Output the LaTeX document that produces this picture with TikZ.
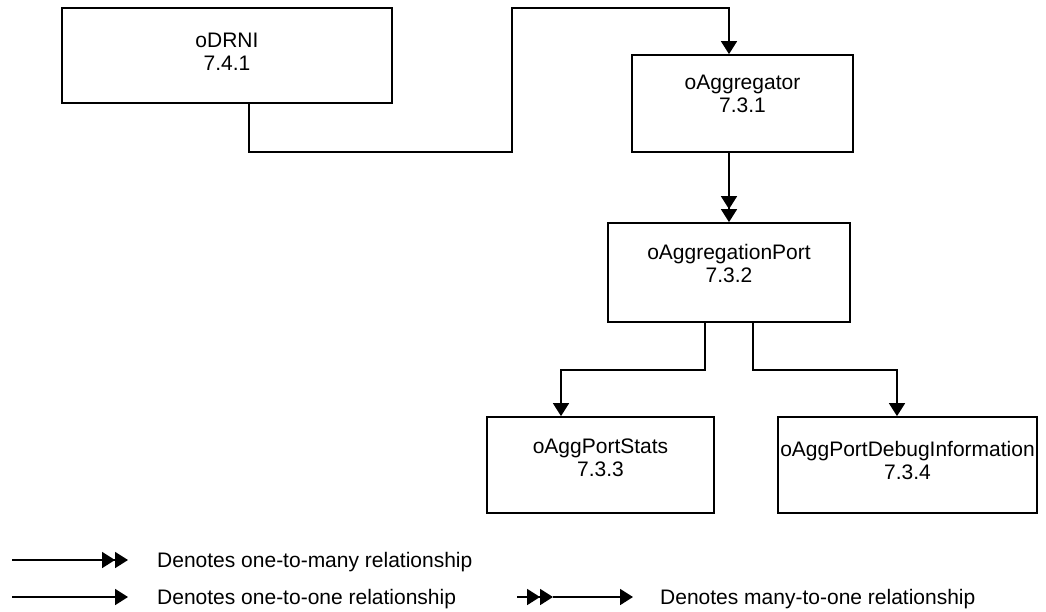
\documentclass[tikz,border=0pt]{standalone}
\usepackage{fontspec}
\setmainfont{Liberation Sans}
\usetikzlibrary{arrows.meta}
\begin{document}
\begin{tikzpicture}[x=1pt,y=-1pt,
  every node/.style={font=\fontsize{21}{23}\selectfont},
  objbox/.style={draw, line width=1.8pt, rectangle, inner sep=0pt},
  conn/.style={line width=1.8pt},
  one/.style={conn, -{Triangle[width=16pt 0,length=13pt 0]}},
  many/.style={conn, -{Triangle[width=16pt 0,length=13pt 0,sep=0pt] Triangle[width=16pt 0,length=13pt 0]}},
  lbl/.style={align=center, inner sep=0pt}
]
\useasboundingbox (0,0) rectangle (1046,611);

% boxes
\node[objbox, minimum width=330pt, minimum height=95pt] (drni) at (227,55.5) {};
\node[lbl] at ([yshift=4pt]drni.center) {oDRNI\\7.4.1};
\node[objbox, minimum width=221pt, minimum height=97pt] (agg) at (742.5,103.5) {};
\node[lbl] at ([yshift=10pt]agg.center) {oAggregator\\7.3.1};
\node[objbox, minimum width=242pt, minimum height=99pt] (port) at (729,272.5) {};
\node[lbl] at ([yshift=9pt]port.center) {oAggregationPort\\7.3.2};
\node[objbox, minimum width=227pt, minimum height=96pt] (stats) at (600.5,465) {};
\node[lbl] at ([yshift=7pt]stats.center) {oAggPortStats\\7.3.3};
\node[objbox, minimum width=259pt, minimum height=96pt] (dbg) at (907.5,465) {};
\node[lbl] at ([yshift=5pt]dbg.center) {oAggPortDebugInformation\\7.3.4};

% routing points
\coordinate (k1) at (249,152);
\coordinate (k2) at (512,8);
\coordinate (k3) at (729,8);
\coordinate (s1) at (705,370);
\coordinate (s2) at (561,370);
\coordinate (d1) at (753,370);
\coordinate (d2) at (897,370);

% connectors
\draw[one] (drni.south -| k1) -- (k1) -| (k2) -- (k3) -- (agg.north -| k3);
\draw[many] (agg.south -| k3) -- (port.north -| k3);
\draw[one] (port.south -| s1) -- (s1) -- (s2) -- (stats.north -| s2);
\draw[one] (port.south -| d1) -- (d1) -- (d2) -- (dbg.north -| d2);

% legend
\coordinate (l1a) at (12,560);
\coordinate (l1b) at (128,560);
\coordinate (l2a) at (12,597);
\coordinate (l2b) at (128,597);
\coordinate (l3a) at (517,597);
\coordinate (l3m) at (553,597);
\coordinate (l3b) at (633,597);
\draw[many] (l1a) -- (l1b);
\draw[one] (l2a) -- (l2b);
\draw[many] (l3a) -- (l3m);
\draw[one] (l3m) -- (l3b);
\node[anchor=west, inner sep=0pt] (t1) at (157,562) {Denotes one-to-many relationship};
\node[anchor=west, inner sep=0pt] (t2) at (157,599) {Denotes one-to-one relationship};
\node[anchor=west, inner sep=0pt] (t3) at (660,599) {Denotes many-to-one relationship};
\end{tikzpicture}
\end{document}
